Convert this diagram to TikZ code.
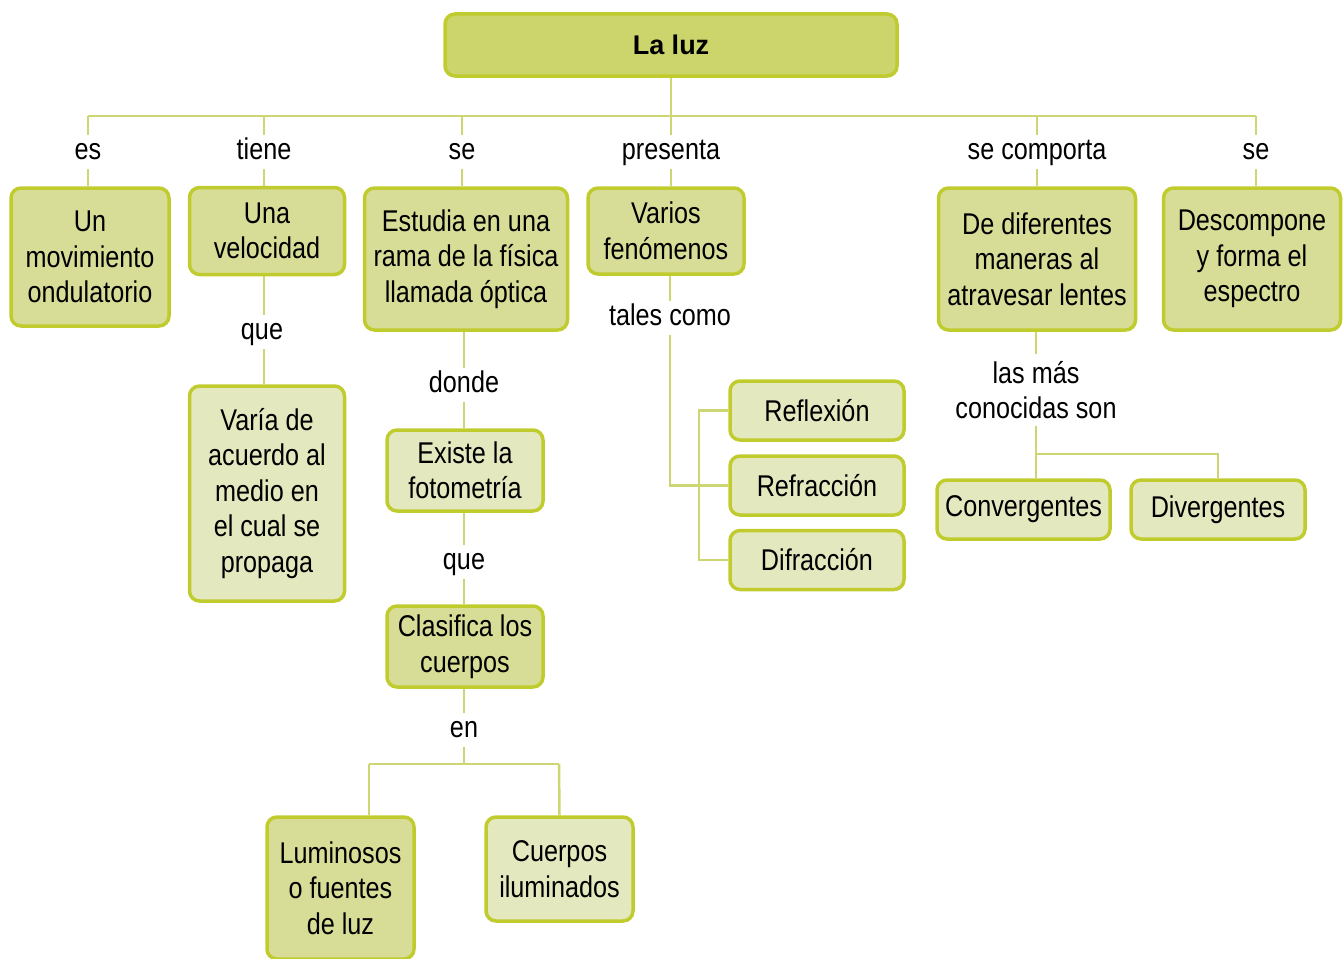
\documentclass[tikz,border=0pt]{standalone}
\usepackage{fontspec}
\setmainfont{Liberation Sans}[FakeStretch=0.84]
\newfontfamily\titlefont{Liberation Sans}
\usepackage{tikz}
\usetikzlibrary{positioning, backgrounds}
\usepackage{xcolor}
\definecolor{rootfill}{RGB}{204,212,108}
\definecolor{midfill}{RGB}{215,221,150}
\definecolor{lightfill}{RGB}{227,232,190}
\definecolor{boxline}{RGB}{192,204,46}
\definecolor{linkgreen}{RGB}{205,214,115}

\begin{document}
\begin{tikzpicture}[x=1pt, y=-1pt,
		root/.style={fill=rootfill, draw=boxline, line width=3.5pt, rounded corners=10pt, font=\titlefont\bfseries\fontsize{27}{32}\selectfont, minimum width=452pt, minimum height=62pt},
		box/.style={fill=midfill, draw=boxline, line width=3.5pt, rounded corners=10pt, font=\fontsize{30}{35.5}\selectfont, align=center, inner sep=2pt},
		box_light/.style={box, fill=lightfill},
		lbl/.style={font=\fontsize{30}{35.5}\selectfont, align=center, inner sep=0pt, text height=22pt, text depth=7pt, minimum height=34pt, yshift=-3pt},
		lbl_two/.style={font=\fontsize{30}{35.5}\selectfont, align=center, inner sep=0pt, minimum height=72pt},
		link/.style={draw=linkgreen, line width=2.5pt}
	]
	\useasboundingbox (0,0) rectangle (1343,958);

	% --- Root ---
	\node[root] (root) at (671,45) {La luz};

	% --- Labels of the first level (y = 149) ---
	\node[lbl] (l_es) at (88,149) {es};
	\node[lbl] (l_tiene) at (264,149) {tiene};
	\node[lbl] (l_se1) at (462,149) {se};
	\node[lbl] (l_pres) at (671,149) {presenta};
	\node[lbl] (l_comp) at (1037,149) {se comporta};
	\node[lbl] (l_se2) at (1256,149) {se};

	% --- First level boxes ---
	\node[box, minimum width=158pt, minimum height=138pt] (mov) at (90,257) {Un\\movimiento\\ondulatorio};
	\node[box, minimum width=155pt, minimum height=87pt] (vel) at (267,231) {Una\\velocidad};
	\node[box, minimum width=203pt, minimum height=142pt] (est) at (466,259) {Estudia en una\\rama de la física\\llamada óptica};
	\node[box, minimum width=156pt, minimum height=86pt] (fen) at (666,231) {Varios\\fenómenos};
	\node[box, minimum width=197pt, minimum height=142pt] (len) at (1037,259) {De diferentes\\maneras al\\atravesar lentes};
	\node[box, minimum width=177pt, minimum height=142pt] (esp) at (1252,259) {Descompone\\y forma el\\espectro};

	% --- Velocidad ---
	\node[lbl] (l_que1) at (262,329) {que};
	\node[box_light, minimum width=155pt, minimum height=215pt] (vel_var) at (267,493.5) {Varía de\\acuerdo al\\medio en\\el cual se\\propaga};

	% --- Optica ---
	\node[lbl] (l_donde) at (464,382) {donde};
	\node[box_light, minimum width=156pt, minimum height=81pt] (est_fot) at (465,470.5) {Existe la\\fotometría};
	\node[lbl] (l_que2) at (464,559) {que};
	\node[box, minimum width=156pt, minimum height=81pt] (est_cla) at (465,646.5) {Clasifica los\\cuerpos};
	\node[lbl] (l_en) at (464,727) {en};
	\node[box, minimum width=147pt, minimum height=142pt] (est_lum) at (340.5,888) {Luminosos\\o fuentes\\de luz};
	\node[box_light, minimum width=147pt, minimum height=104pt] (est_ilu) at (559.5,869) {Cuerpos\\iluminados};

	% --- Fenomenos ---
	\node[lbl] (l_tales) at (670,315) {tales como};
	\node[box_light, minimum width=174pt, minimum height=59pt] (f_refl) at (817,410.5) {Reflexión};
	\node[box_light, minimum width=174pt, minimum height=59pt] (f_refr) at (817,485.5) {Refracción};
	\node[box_light, minimum width=174pt, minimum height=59pt] (f_difr) at (817,560) {Difracción};

	% --- Lentes ---
	\node[lbl_two] (l_masc) at (1036,390) {las más\\conocidas son};
	\node[box_light, minimum width=173pt, minimum height=59pt] (l_conv) at (1023.5,509.5) {Convergentes};
	\node[box_light, minimum width=174pt, minimum height=59pt] (l_div) at (1218,509.5) {Divergentes};

	% --- Connections ---
	\coordinate (bar_l) at (88,116);
	\coordinate (bar_r) at (1256,116);
	\coordinate (brk) at (699,480);
	\coordinate (lt_bar) at (1037,454);
	\coordinate (cu_l) at (369,764);
	\coordinate (cu_r) at (559,764);
	\coordinate (cu_m) at (464,764);

	\begin{scope}[on background layer]
		\draw[link] (bar_l) -- (bar_r);
		\draw[link] (root.south) -- (root.south |- bar_l);
		\foreach \lb/\bx in {l_es/mov, l_tiene/vel, l_se1/est, l_pres/fen, l_comp/len, l_se2/esp} {
			\draw[link] (\lb.north |- bar_l) -- (\lb.north);
			\draw[link] (\lb.south) -- (\lb.south |- \bx.north);
		}

		\draw[link] (l_tiene |- vel.south) -- (l_tiene |- l_que1.north);
		\draw[link] (l_tiene |- l_que1.south) -- (l_tiene |- vel_var.north);

		\draw[link] (l_donde.north |- est.south) -- (l_donde.north);
		\draw[link] (l_donde.south) -- (l_donde.south |- est_fot.north);
		\draw[link] (l_que2.north |- est_fot.south) -- (l_que2.north);
		\draw[link] (l_que2.south) -- (l_que2.south |- est_cla.north);
		\draw[link] (l_en.north |- est_cla.south) -- (l_en.north);
		\draw[link] (l_en.south) -- (cu_m);
		\draw[link] (cu_l) -- (cu_r);
		\draw[link] (cu_l) -- (cu_l |- est_lum.north);
		\draw[link] (cu_r) -- (est_ilu.north);

		\draw[link] (l_tales.north |- fen.south) -- (l_tales.north);
		\draw[link] (l_tales.south) |- (f_refr.west);
		\draw[link] (f_refl.west) -- (f_refl.west -| brk) -- (f_difr.west -| brk) -- (f_difr.west);

		\draw[link] (l_masc.north |- len.south) -- (l_masc.north);
		\draw[link] (l_masc.south) -- (l_masc.south |- l_conv.north);
		\draw[link] (lt_bar) -| (l_div.north);
	\end{scope}
\end{tikzpicture}
\end{document}
